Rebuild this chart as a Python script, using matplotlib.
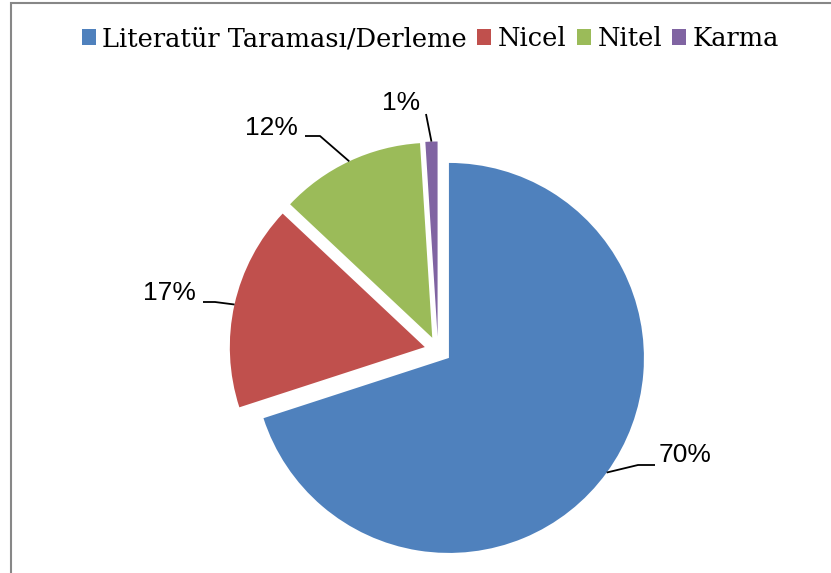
import math
import matplotlib
matplotlib.use('Agg')
import matplotlib.pyplot as plt
from matplotlib.patches import Rectangle

# datos del grafico
categorias = ['Literatür Taraması/Derleme', 'Nicel', 'Nitel', 'Karma']
valores = [70, 17, 12, 1]
etiquetas = ['70%', '17%', '12%', '1%']
colores = ['#4F81BD', '#C0504D', '#9BBB59', '#8064A2']

W, H = 831, 573
fig = plt.figure(figsize=(W / 100, H / 100), dpi=100)
ax = fig.add_axes([0, 0, 1, 1])
ax.set_xlim(0, W)
ax.set_ylim(0, H)
ax.set_aspect('equal')
ax.axis('off')

# pastel (coordenadas en pixeles, y hacia arriba)
radio = 195
wedges, _ = ax.pie(valores, colors=colores, startangle=90, counterclock=False,
                   radius=radio, center=(438, H - 350), explode=[13.5] * 4,
                   wedgeprops=dict(linewidth=0))
ax.set_xlim(0, W)
ax.set_ylim(0, H)

# posiciones de etiquetas: (codo de la linea, fin de la linea, texto, alineacion)
guias = [
    ((638, 465), (655, 465), (659, 455), 'left'),
    ((215, 302), (203, 302), (196, 293), 'right'),
    ((320, 136), (305, 136), (298, 128), 'right'),
    ((426, 114), (426, 114), (420, 103), 'right'),
]
for w, et, (codo, fin, pos, ha) in zip(wedges, etiquetas, guias):
    ang = math.radians((w.theta1 + w.theta2) / 2)
    cx, cy = w.center
    px, py = cx + w.r * math.cos(ang), cy + w.r * math.sin(ang)
    xs = [px, codo[0], fin[0]]
    ys = [py, H - codo[1], H - fin[1]]
    ax.plot(xs, ys, color='black', lw=1.3, solid_capstyle='butt')
    ax.text(pos[0], H - pos[1], et, ha=ha, va='center', fontsize=19,
            family='Liberation Sans')

# leyenda
leg = fig.legend(wedges, categorias, loc='upper center', ncol=4,
                 bbox_to_anchor=(0.518, 0.972), frameon=False,
                 prop={'family': 'DejaVu Serif', 'size': 18.5},
                 handlelength=0.55, handleheight=0.55, handletextpad=0.25,
                 columnspacing=0.4, borderaxespad=0)

# marco
fig.patches.append(Rectangle((11 / W, -0.1), 1.2, (H - 3) / H + 0.1,
                             transform=fig.transFigure, fill=False,
                             edgecolor='#878787', linewidth=1.5))

fig.savefig('out.png', dpi=100)
